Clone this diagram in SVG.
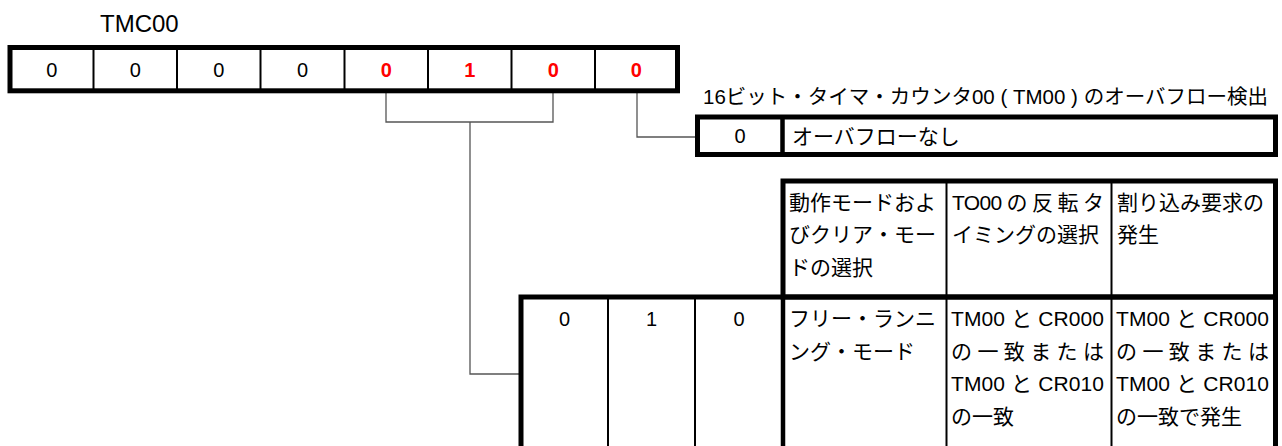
<svg xmlns="http://www.w3.org/2000/svg" width="1282" height="446" viewBox="0 0 1282 446">
<style>
.thick{fill:none;stroke:#000;stroke-width:5}
.thin{stroke:#000;stroke-width:2}
.tk{stroke:#000;stroke-width:4.5}
.conn{fill:none;stroke:#555;stroke-width:1.3}
.t{font-family:"Liberation Sans","Noto Sans CJK JP",sans-serif;font-size:21px;fill:#000}
.d{font-family:"Liberation Sans",sans-serif;font-size:20px;fill:#000;text-anchor:middle}
.red{fill:#ff0000;font-weight:bold}
</style>
<rect width="1282" height="446" fill="#fff"/>
<g id="connectors">
<path class="conn" d="M386 93V122H553V93"/>
<path class="conn" d="M470 122V374H521"/>
<path class="conn" d="M637 93V137H697"/>
</g>
<g id="tmc00-label">
<text class="t" x="100" y="32" style="font-size:24px">TMC00</text>
</g>
<g id="register">
<line class="thin" x1="93.5" y1="47.5" x2="93.5" y2="91"/>
<line class="thin" x1="177" y1="47.5" x2="177" y2="91"/>
<line class="thin" x1="260.5" y1="47.5" x2="260.5" y2="91"/>
<line class="thin" x1="344.5" y1="47.5" x2="344.5" y2="91"/>
<line class="thin" x1="428" y1="47.5" x2="428" y2="91"/>
<line class="thin" x1="511.5" y1="47.5" x2="511.5" y2="91"/>
<line class="thin" x1="595" y1="47.5" x2="595" y2="91"/>
<rect class="thick" x="10" y="47.5" width="667.5" height="43.3"/>
<text class="d" x="51.8" y="77">0</text>
<text class="d" x="135.3" y="77">0</text>
<text class="d" x="218.8" y="77">0</text>
<text class="d" x="302.5" y="77">0</text>
<text class="d red" x="386.3" y="77">0</text>
<text class="d red" x="469.8" y="77">1</text>
<text class="d red" x="553.3" y="77">0</text>
<text class="d red" x="636.3" y="77">0</text>
</g>
<g id="overflow">
<text class="t" x="703" y="104" style="font-size:20.5px" textLength="565" lengthAdjust="spacing">16ビット・タイマ・カウンタ00 ( TM00 ) のオーバフロー検出</text>
<rect class="thick" x="697.5" y="117" width="578" height="37.5"/>
<line class="tk" x1="782.5" y1="117" x2="782.5" y2="154.5"/>
<text class="d" x="740" y="143">0</text>
<text class="t" x="792" y="143.5">オーバフローなし</text>
</g>
<g id="mode-header">
<line class="thin" x1="946.5" y1="181" x2="946.5" y2="297"/>
<line class="thin" x1="1111.5" y1="181" x2="1111.5" y2="297"/>
<rect class="thick" x="783" y="181" width="492.5" height="116"/>
<text class="t" x="789" y="209.5">動作モードおよ</text>
<text class="t" x="789" y="242">びクリア・モー</text>
<text class="t" x="789" y="274.5">ドの選択</text>
<text class="t" x="952" y="209.5" textLength="152" lengthAdjust="spacing">TO00 の 反 転 タ</text>
<text class="t" x="952" y="242">イミングの選択</text>
<text class="t" x="1117" y="209.5">割り込み要求の</text>
<text class="t" x="1117" y="242">発生</text>
</g>
<g id="mode-row">
<line class="thin" x1="608" y1="297" x2="608" y2="446"/>
<line class="thin" x1="695" y1="297" x2="695" y2="446"/>
<line class="tk" x1="783" y1="297" x2="783" y2="446"/>
<line class="thin" x1="946.5" y1="297" x2="946.5" y2="446"/>
<line class="thin" x1="1111.5" y1="297" x2="1111.5" y2="446"/>
<rect class="thick" x="521" y="297" width="754.5" height="200"/>
<text class="d" x="564.5" y="326">0</text>
<text class="d" x="651.5" y="326">1</text>
<text class="d" x="739" y="326">0</text>
<text class="t" x="789" y="326">フリー・ランニ</text>
<text class="t" x="789" y="358.5">ング・モード</text>
<text class="t" x="951" y="326" textLength="153" lengthAdjust="spacing">TM00 と CR000</text>
<text class="t" x="951" y="358.5" textLength="153" lengthAdjust="spacing">の 一 致 ま た は</text>
<text class="t" x="951" y="391" textLength="153" lengthAdjust="spacing">TM00 と CR010</text>
<text class="t" x="951" y="423.5">の一致</text>
<text class="t" x="1116" y="326" textLength="153" lengthAdjust="spacing">TM00 と CR000</text>
<text class="t" x="1116" y="358.5" textLength="153" lengthAdjust="spacing">の 一 致 ま た は</text>
<text class="t" x="1116" y="391" textLength="153" lengthAdjust="spacing">TM00 と CR010</text>
<text class="t" x="1116" y="423.5">の一致で発生</text>
</g>
</svg>
